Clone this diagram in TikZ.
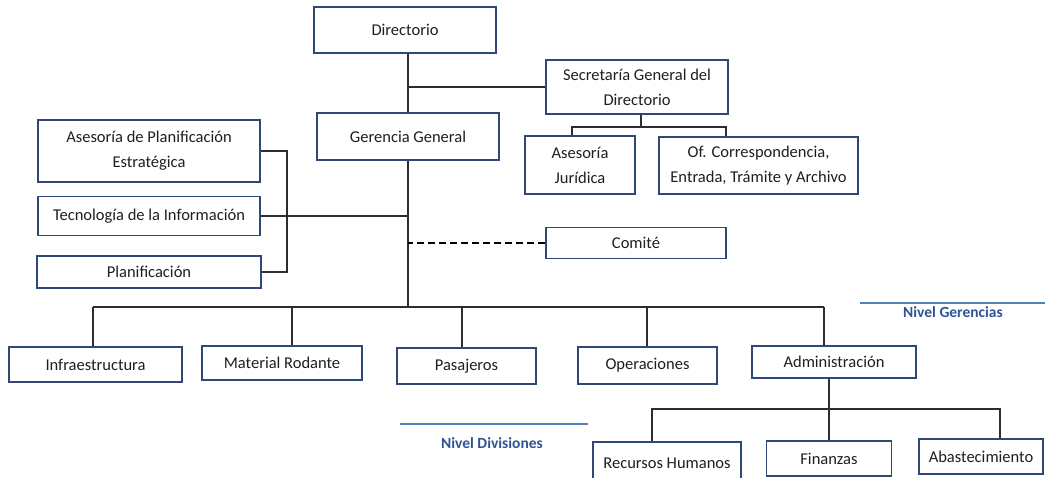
\documentclass[tikz,border=0pt]{standalone}
\usepackage{fontspec}
\setmainfont{Carlito}
\definecolor{boxc}{RGB}{47,72,118}
\definecolor{lnc}{RGB}{45,45,45}
\definecolor{nivl}{RGB}{79,129,189}
\definecolor{nivt}{RGB}{47,84,150}
\begin{document}
\begin{tikzpicture}[x=1pt,y=-1pt,
  box/.style={draw=boxc, line width=1.5pt, fill=white, align=center, inner sep=0pt,
    font=\fontsize{16.5}{25}\selectfont, text=black!88},
  conn/.style={draw=lnc, line width=1.1pt},
  dashconn/.style={draw=black, line width=2pt, dash pattern=on 7pt off 4pt},
  nivline/.style={draw=nivl, line width=2pt},
  nivtext/.style={text=nivt, font=\fontsize{15.5}{18}\bfseries\selectfont, inner sep=0pt}]
\useasboundingbox (0,0) rectangle (1045,478);
\fill[white] (0,0) rectangle (1045,478);

% boxes
\node[box, minimum width=182pt, minimum height=46pt] (dir) at (405,30) {Directorio};
\node[box, minimum width=182pt, minimum height=54pt] (sec) at (637,87) {Secretaría General del\\Directorio};
\node[box, minimum width=182pt, minimum height=47pt] (ger) at (408,136.5) {Gerencia General};
\node[box, minimum width=110pt, minimum height=58pt] (aj) at (580,165) {Asesoría\\Jurídica};
\node[box, minimum width=199pt, minimum height=57pt] (ofc) at (758.5,165.5) {Of. Correspondencia,\\Entrada, Trámite y Archivo};
\node[box, minimum width=222pt, minimum height=62pt] (apl) at (149,151) {Asesoría de Planificación\\Estratégica};
\node[box, minimum width=222pt, minimum height=39pt] (tec) at (149,216) {Tecnología de la Información};
\node[box, minimum width=224pt, minimum height=32pt] (pla) at (149,272) {Planificación};
\node[box, minimum width=180pt, minimum height=31pt] (com) at (636,243) {Comité};
\node[box, minimum width=173pt, minimum height=35pt] (inf) at (95.5,364.5) {Infraestructura};
\node[box, minimum width=160pt, minimum height=34pt] (mat) at (282,363) {Material Rodante};
\node[box, minimum width=139pt, minimum height=36pt] (pas) at (466.5,366) {Pasajeros};
\node[box, minimum width=139pt, minimum height=37pt] (ope) at (647.5,365.5) {Operaciones};
\node[box, minimum width=164pt, minimum height=32pt] (adm) at (834,362) {Administración};
\node[box, minimum width=148pt, minimum height=43pt] (rh) at (667,463.5) {Recursos Humanos};
\node[box, minimum width=125pt, minimum height=35pt] (fin) at (829,458.5) {Finanzas};
\node[box, minimum width=124pt, minimum height=35pt] (aba) at (981,456.5) {Abastecimiento};

% helper coordinates
\coordinate (secb) at (641,127);
\coordinate (xaj) at (572,127);
\coordinate (xofc) at (726,127);
\coordinate (brk) at (287,0);
\coordinate (gbus) at (408,307);
\coordinate (xinf) at (93,307);
\coordinate (xmat) at (292,307);
\coordinate (xpas) at (462,307);
\coordinate (xope) at (647,307);
\coordinate (xadm) at (824,307);
\coordinate (xrh) at (652,409);
\coordinate (xaba) at (1000,409);

% connectors
\draw[conn] (dir.south -| ger.north) -- (ger.north);
\draw[conn] (sec.west) -- (sec.west -| ger.north);
\draw[conn] (sec.south -| secb) -- (secb);
\draw[conn] (xaj |- aj.north) -- (xaj) -- (xofc) -- (xofc |- ofc.north);
\draw[conn] (ger.south) -- (gbus);
\draw[conn] (apl.east) -| (brk |- pla.east) -- (pla.east);
\draw[conn] (tec.east) -- (tec.east -| ger.south);
\draw[dashconn] (com.west) -- (com.west -| ger.south);
\draw[conn] (xinf) -- (xadm);
\draw[conn] (xinf) -- (xinf |- inf.north);
\draw[conn] (xmat) -- (xmat |- mat.north);
\draw[conn] (xpas) -- (xpas |- pas.north);
\draw[conn] (xope) -- (xope |- ope.north);
\draw[conn] (xadm) -- (xadm |- adm.north);
\draw[conn] (fin.north |- adm.south) -- (fin.north);
\draw[conn] (xrh |- rh.north) -- (xrh) -- (xaba) -- (xaba |- aba.north);

% level labels
\coordinate (ng1) at (860,303);
\coordinate (ng2) at (1045,303);
\draw[nivline] (ng1) -- (ng2);
\node[nivtext] (ngt) at (953,312) {Nivel Gerencias};
\coordinate (nd1) at (400,424);
\coordinate (nd2) at (588,424);
\draw[nivline] (nd1) -- (nd2);
\node[nivtext] (ndt) at (492,443) {Nivel Divisiones};
\end{tikzpicture}
\end{document}
